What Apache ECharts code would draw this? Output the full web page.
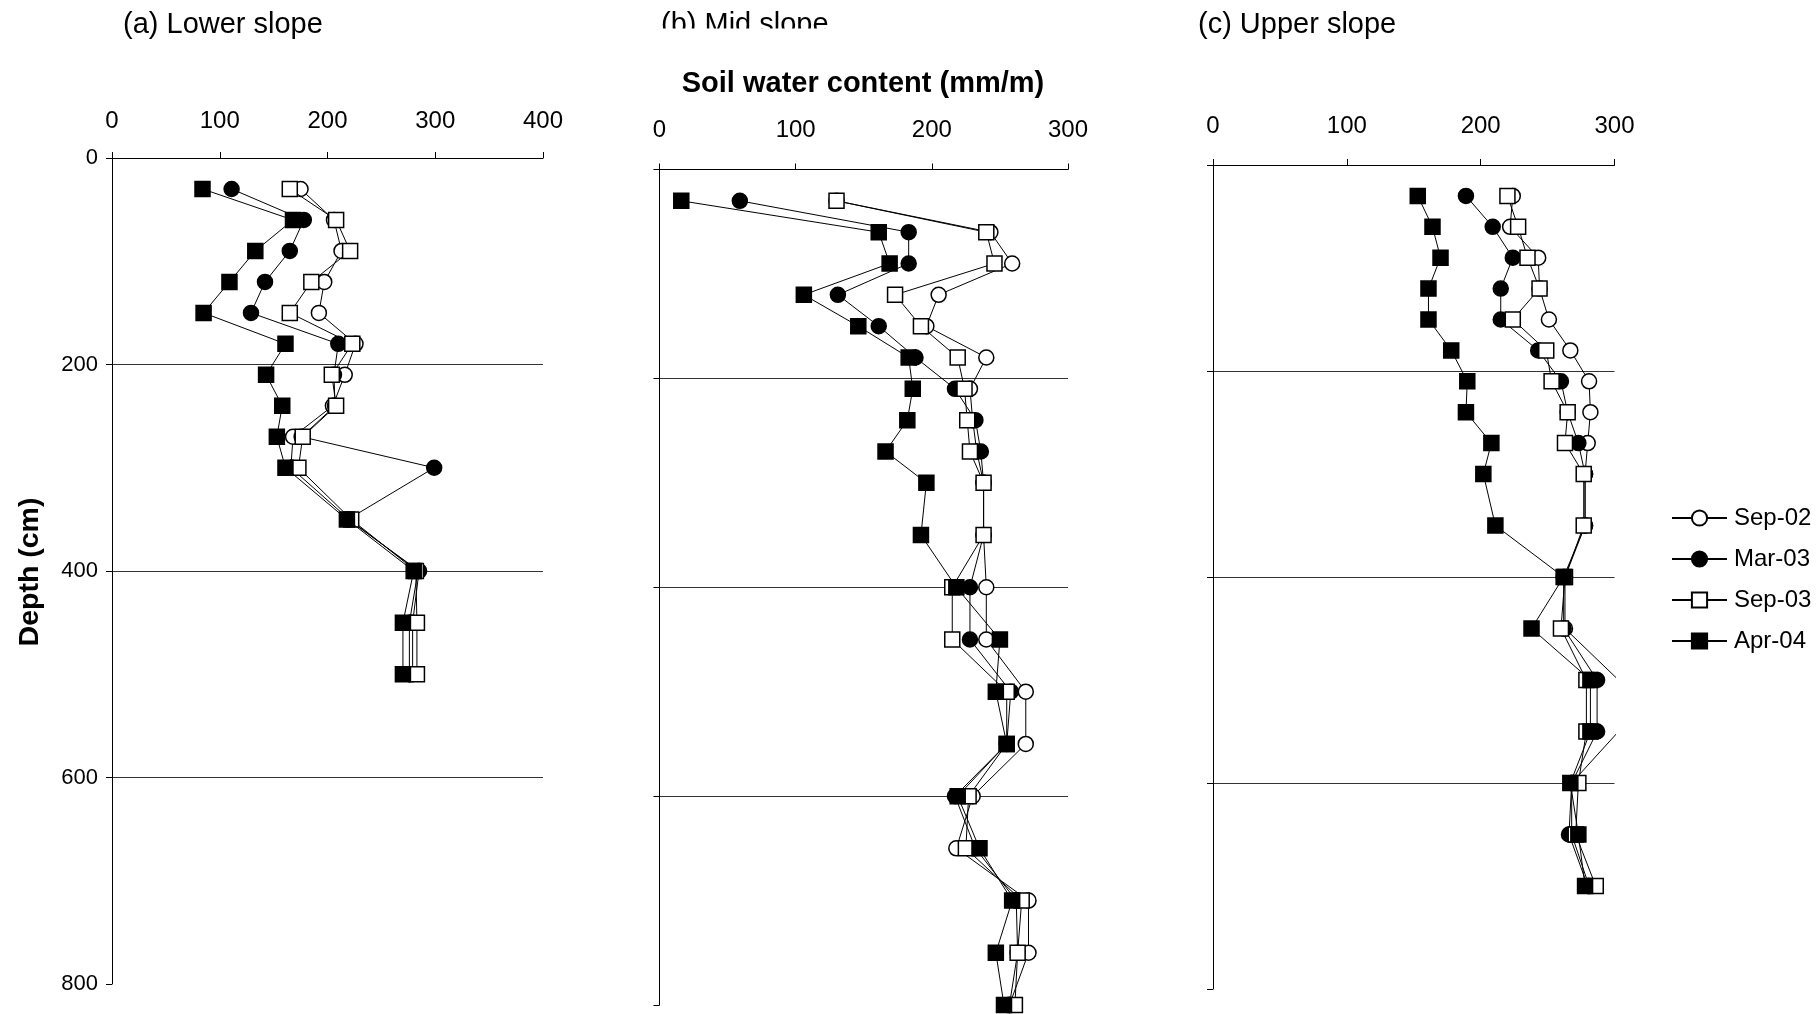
<!DOCTYPE html>
<html><head><meta charset="utf-8">
<script src="https://cdn.jsdelivr.net/npm/echarts@6/dist/echarts.min.js"></script>
<style>html,body{margin:0;padding:0;background:#fff}#c{width:1820px;height:1014px}</style>
</head><body><div id="c"></div>
<script>
// ---------- data ----------
const seriesNames = ['Sep-02', 'Mar-03', 'Sep-03', 'Apr-04'];

// (a) Lower slope
const depthLower = [30, 60, 90, 120, 150, 180, 210, 240, 270, 300, 350, 400, 450, 500];
const lowerSep02 = [175, 206, 213, 197, 192, 226, 216, 205, 168, 166, 220, 284, 276, 276];
const lowerMar03 = [111, 178, 165, 142, 129, 210, 206, 207, 176, 299, 219, 285, 279, 279];
const lowerSep03 = [165, 208, 221, 185, 165, 223, 204, 208, 177, 173, 222, 282, 283, 283];
const lowerApr04 = [84, 168, 133, 109, 85, 161, 143, 158, 153, 161, 218, 280, 270, 270];

// (b) Mid slope
const depthMid = [30, 60, 90, 120, 150, 180, 210, 240, 270, 300, 350, 400, 450, 500, 550, 600, 650, 700, 750, 800];
const midSep02 = [130, 243, 259, 205, 196, 240, 228, 230, 233, 238, 238, 240, 240, 269, 269, 230, 218, 271, 271, 257];
const midMar03 = [59, 183, 183, 131, 161, 188, 217, 232, 236, 238, 238, 228, 228, 258, 255, 217, 232, 262, 263, 257];
const midSep03 = [130, 240, 246, 173, 192, 219, 224, 226, 228, 238, 238, 215, 215, 255, 255, 227, 225, 266, 263, 261];
const midApr04 = [16, 161, 169, 106, 146, 183, 186, 182, 166, 196, 192, 218, 250, 247, 255, 219, 235, 259, 247, 253];

// (c) Upper slope
const depthUpper = [30, 60, 90, 120, 150, 180, 210, 240, 270, 300, 350, 400, 450, 500, 550, 600, 650, 700];
const upperSep02 = [224, 222, 243, 244, 251, 267, 281, 282, 280, 278, 278, 263, 263, 303, 303, 268, 268, 281];
const upperMar03 = [189, 209, 224, 215, 215, 243, 260, 265, 273, 278, 278, 262, 262, 287, 287, 268, 266, 280];
const upperSep03 = [220, 228, 235, 244, 224, 249, 253, 265, 263, 277, 277, 263, 260, 279, 279, 273, 271, 286];
const upperApr04 = [153, 164, 170, 161, 161, 178, 190, 189, 208, 202, 211, 262, 238, 282, 282, 267, 273, 278];

const depthTicks = [0, 200, 400, 600, 800];
const panelTitles = ['(a) Lower slope', '(b) Mid slope', '(c) Upper slope'];
const xAxisTitle = 'Soil water content (mm/m)';
const yAxisTitle = 'Depth (cm)';

// ---------- chart ----------
const FONT = '"Liberation Sans", Arial, sans-serif';
const panels = [
  { depth: depthLower, vals: [lowerSep02, lowerMar03, lowerSep03, lowerApr04], xmax: 400,
    grid: { left: 112, top: 158, width: 431, height: 826 }, showY: true, xMargin: 25 },
  { depth: depthMid, vals: [midSep02, midMar03, midSep03, midApr04], xmax: 300,
    grid: { left: 659.5, top: 169.5, width: 408.5, height: 835.5 }, showY: false, xMargin: 27 },
  { depth: depthUpper, vals: [upperSep02, upperMar03, upperSep03, upperApr04], xmax: 300,
    grid: { left: 1213, top: 165, width: 401.5, height: 824 }, showY: false, xMargin: 27 }
];
const styles = [
  { symbol: 'circle', fill: '#ffffff' },
  { symbol: 'circle', fill: '#000000' },
  { symbol: 'rect', fill: '#ffffff' },
  { symbol: 'rect', fill: '#000000' }
];

const grids = [], xAxes = [], yAxes = [], series = [];
panels.forEach((p, i) => {
  grids.push(Object.assign({ outerBoundsMode: 'none', containLabel: false }, p.grid));
  xAxes.push({
    gridIndex: i, type: 'value', position: 'top', min: 0, max: p.xmax, interval: 100,
    axisLine: { show: true, onZero: false, lineStyle: { color: '#000', width: 1 } },
    axisTick: { show: true, inside: false, length: 6, lineStyle: { color: '#000' } },
    axisLabel: { show: true, color: '#000', fontSize: 24, fontFamily: FONT, margin: p.xMargin },
    splitLine: { show: false }
  });
  yAxes.push({
    gridIndex: i, type: 'value', inverse: true, min: depthTicks[0], max: depthTicks[depthTicks.length - 1],
    interval: depthTicks[1] - depthTicks[0],
    axisLine: { show: true, onZero: false, lineStyle: { color: '#000', width: 1 } },
    axisTick: { show: true, inside: false, length: 6, lineStyle: { color: '#000' } },
    axisLabel: { show: p.showY, color: '#000', fontSize: 22, fontFamily: FONT, margin: 14 },
    splitLine: { show: true, showMinLine: false, showMaxLine: false, lineStyle: { color: '#333', width: 1 } }
  });
  seriesNames.forEach((name, k) => {
    series.push({
      name: name, type: 'line', xAxisIndex: i, yAxisIndex: i,
      // points beyond the axis maximum keep their line vertex but show no marker
      data: p.depth.map((d, j) => {
        const v = p.vals[k][j];
        return v > p.xmax ? { value: [v, d], symbol: 'none' } : [v, d];
      }),
      symbol: styles[k].symbol, symbolSize: 15, showSymbol: true, clip: false,
      lineStyle: { color: '#000', width: 1 },
      itemStyle: { color: styles[k].fill, borderColor: '#000', borderWidth: 1.5 },
      emphasis: { disabled: true }, z: 2 + k
    });
  });
});

const graphics = [
  { type: 'text', left: 123, top: 10, z: 10, style: { text: panelTitles[0], font: '29px ' + FONT, fill: '#000' } },
  { type: 'text', left: 661, top: 10, z: 10, style: { text: panelTitles[1], font: '29px ' + FONT, fill: '#000' } },
  { type: 'rect', shape: { x: 640, y: 28.5, width: 240, height: 22 }, z: 20, style: { fill: '#fff' } },
  { type: 'text', left: 1198, top: 10, z: 10, style: { text: panelTitles[2], font: '29px ' + FONT, fill: '#000' } },
  { type: 'text', x: 863, y: 84, z: 10, style: { text: xAxisTitle, font: 'bold 29px ' + FONT, fill: '#000', align: 'center', verticalAlign: 'middle' } },
  { type: 'text', x: 30, y: 572, rotation: Math.PI / 2, z: 10, style: { text: yAxisTitle, font: 'bold 28.5px ' + FONT, fill: '#000', align: 'center', verticalAlign: 'middle' } }
];

const chart = echarts.init(document.getElementById('c'), null, { renderer: 'canvas' });
chart.setOption({
  animation: false,
  backgroundColor: '#fff',
  textStyle: { fontFamily: FONT, color: '#000' },
  grid: grids, xAxis: xAxes, yAxis: yAxes, series: series,
  legend: {
    data: seriesNames, orient: 'vertical', left: 1671, top: 506, padding: 0,
    itemWidth: 55, itemHeight: 19, itemGap: 17, selectedMode: false,
    textStyle: { fontSize: 24, color: '#000', fontFamily: FONT, padding: [0, 0, 0, 2] }
  },
  graphic: graphics
});
</script></body></html>
